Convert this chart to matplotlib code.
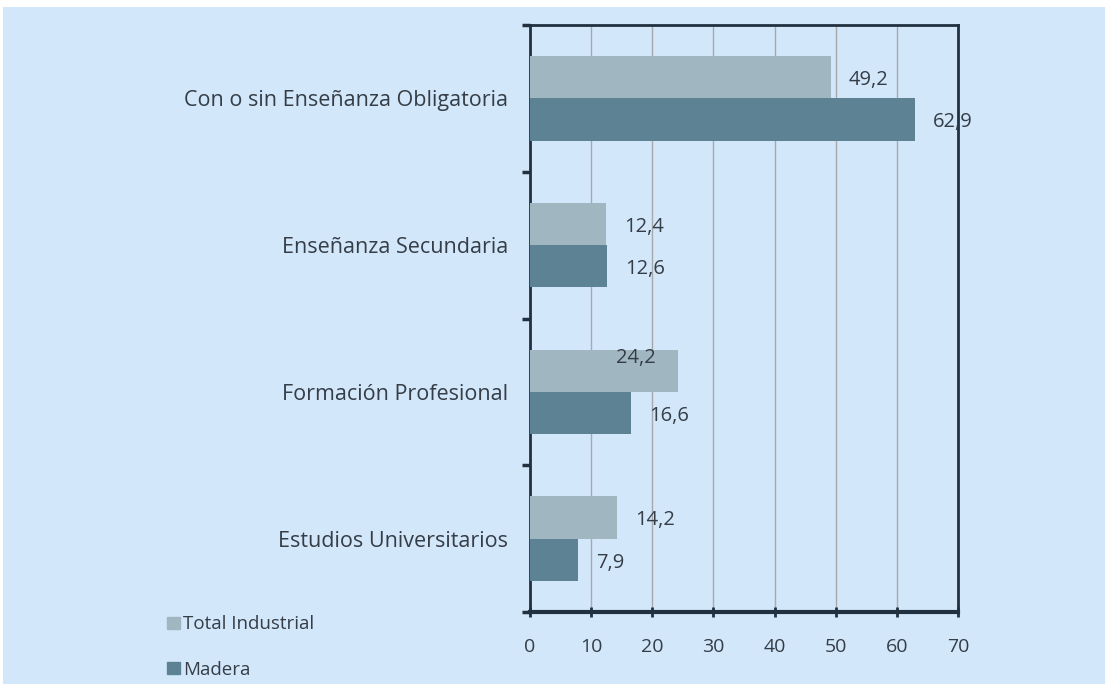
import matplotlib
matplotlib.use("Agg")
import matplotlib.pyplot as plt
import numpy as np
from matplotlib.patches import Rectangle

# Data (top to bottom as shown)
categories = ["Con o sin Enseñanza Obligatoria", "Enseñanza Secundaria",
              "Formación Profesional", "Estudios Universitarios"]
total_industrial = [49.2, 12.4, 24.2, 14.2]
madera = [62.9, 12.6, 16.6, 7.9]
series_names = ["Total Industrial", "Madera"]
x_ticks = [0, 10, 20, 30, 40, 50, 60, 70]

light = "#A0B7C2"
dark = "#5D8293"
spine_col = "#22313F"
text_col = "#353D46"
bg = "#D3E7FB"

plt.rcParams["font.family"] = ["Open Sans", "DejaVu Sans"]
fs_cat = 15.5
fs_val = 14.5
fs_tick = 14

fig = plt.figure(figsize=(11.05, 6.84), dpi=100, facecolor="white")
fig.add_artist(Rectangle((3 / 1105, 0), 1, 1 - 7 / 684, transform=fig.transFigure,
                         facecolor=bg, edgecolor="none", zorder=-10))

ax = fig.add_axes([530 / 1105, 1 - 612 / 684, 428 / 1105, 587 / 684])
ax.set_facecolor(bg)

n = len(categories)
y = np.arange(n)[::-1] + 0.5
h = 0.288
b1 = ax.barh(y + h / 2, total_industrial, height=h, color=light, zorder=3)
b2 = ax.barh(y - h / 2, madera, height=h, color=dark, zorder=3)

# value labels, comma decimal
for bars, vals in ((b1, total_industrial), (b2, madera)):
    for bar, v in zip(bars, vals):
        cy = bar.get_y() + bar.get_height() / 2
        txt = f"{v:.1f}".replace(".", ",")
        if bars is b1 and v == 24.2:
            # this one sits over the bar end in the original
            ax.annotate(txt, (v, cy), xytext=(-30, 9), textcoords="offset points",
                        ha="center", va="center", fontsize=fs_val, color=text_col, zorder=4)
        else:
            ax.annotate(txt, (v, cy), xytext=(13, -2), textcoords="offset points",
                        ha="left", va="center", fontsize=fs_val, color=text_col, zorder=4)

ax.set_xlim(0, 70)
ax.set_ylim(0, n)
ax.set_xticks(x_ticks)
ax.set_xticklabels([str(t) for t in x_ticks], fontsize=fs_tick, color=text_col)
ax.xaxis.grid(True, color="#A9A9A9", linewidth=1, zorder=1)
ax.set_axisbelow(True)

# category boundaries as y ticks, names as minor labels
ax.set_yticks(np.arange(n + 1))
ax.set_yticklabels([])
ax.set_yticks(y, minor=True)
ax.set_yticklabels(categories, minor=True, fontsize=fs_cat, color=text_col)
ax.tick_params(axis="y", which="minor", length=0, pad=16)
ax.tick_params(axis="y", which="major", length=6, width=2.5, color=spine_col, direction="out")
ax.tick_params(axis="x", length=7, width=2, color=spine_col, direction="inout", pad=15)

for side in ("left", "right", "top"):
    ax.spines[side].set_color(spine_col)
    ax.spines[side].set_linewidth(2)
ax.spines["bottom"].set_color(spine_col)
ax.spines["bottom"].set_linewidth(3)

# legend at bottom left
handles = [Rectangle((0, 0), 1, 1, color=light), Rectangle((0, 0), 1, 1, color=dark)]
leg = fig.legend(handles, series_names, loc="upper left", bbox_to_anchor=(158 / 1105, 1 - 606 / 684),
                 frameon=False, fontsize=13.5, handlelength=0.65, handleheight=0.65,
                 handletextpad=0.2, labelspacing=1.45, borderpad=0)
for t in leg.get_texts():
    t.set_color(text_col)

fig.savefig("out.png", dpi=100, facecolor=fig.get_facecolor())
